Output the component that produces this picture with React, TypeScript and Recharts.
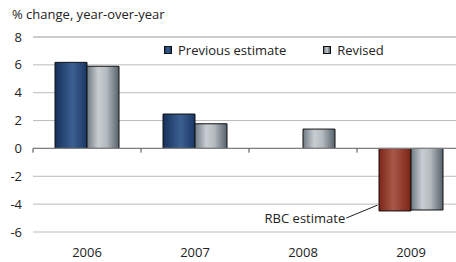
import React from 'react';
import { BarChart, Bar, XAxis, YAxis, CartesianGrid, ReferenceLine, ReferenceDot, Cell, Legend } from 'recharts';

const years = ['2006', '2007', '2008', '2009'];
const previousEstimate = [6.18, 2.47, null, -4.49];
const revised = [5.9, 1.77, 1.39, -4.42];
const yTicks = [-6, -4, -2, 0, 2, 4, 6, 8];
const boundaryTicks = [0, 1, 2, 3, 4];
const rbcYearIndex = 3;

const data = years.map((year, i) => ({
  year,
  idx: i + 0.5,
  previous: previousEstimate[i],
  revised: revised[i],
}));

const FONT = "'Open Sans', sans-serif";
const FS = 13;

const LegendContent = () => (
  <div style={{ display: 'flex', alignItems: 'center', fontFamily: FONT, fontSize: FS, color: '#222', whiteSpace: 'nowrap' }}>
    <span style={{ width: 6, height: 6, border: '1px solid #111', background: 'linear-gradient(90deg,#1a3765,#3b6092,#1a3765)', display: 'inline-block' }} />
    <span style={{ marginLeft: 6 }}>Previous estimate</span>
    <span style={{ width: 6, height: 6, border: '1px solid #111', marginLeft: 37, background: 'linear-gradient(90deg,#6f7a84,#c8cdd1,#56626c)', display: 'inline-block' }} />
    <span style={{ marginLeft: 6 }}>Revised</span>
  </div>
);

export default function App() {
  return (
    <div style={{ position: 'absolute', left: 0, top: 0, width: 456, height: 262, overflow: 'hidden', background: '#fff' }}>
      <div style={{ position: 'absolute', left: 12, top: 5, fontFamily: FONT, fontSize: FS, color: '#222', whiteSpace: 'nowrap' }}>
        % change, year-over-year
      </div>
      <BarChart
        width={480}
        height={262}
        data={data}
        margin={{ top: 37, right: 15, bottom: 0, left: 0 }}
        barSize={32}
        barGap={0}
      >
        <defs>
          <linearGradient id="gNavy" x1="0" y1="0" x2="1" y2="0">
            <stop offset="0%" stopColor="#16305a" />
            <stop offset="55%" stopColor="#3b6092" />
            <stop offset="100%" stopColor="#1a3765" />
          </linearGradient>
          <linearGradient id="gGray" x1="0" y1="0" x2="1" y2="0">
            <stop offset="0%" stopColor="#6f7a84" />
            <stop offset="35%" stopColor="#c8cdd1" />
            <stop offset="60%" stopColor="#b5bbc0" />
            <stop offset="100%" stopColor="#56626c" />
          </linearGradient>
          <linearGradient id="gRed" x1="0" y1="0" x2="1" y2="0">
            <stop offset="0%" stopColor="#7d2618" />
            <stop offset="45%" stopColor="#a85848" />
            <stop offset="100%" stopColor="#7a2315" />
          </linearGradient>
        </defs>
        <CartesianGrid horizontal vertical={false} stroke="#bbbbbb" strokeWidth={1} />
        <XAxis
          dataKey="year"
          axisLine={false}
          tickLine={false}
          tickSize={0}
          tickMargin={16}
          height={30}
          tick={{ fontFamily: FONT, fontSize: FS, fill: '#222' }}
        />
        <XAxis xAxisId="num" type="number" dataKey="idx" domain={[0, 4]} hide allowDataOverflow />
        <YAxis
          domain={[-6, 8]}
          ticks={yTicks}
          width={33}
          axisLine={false}
          tickLine={false}
          tickSize={0}
          tickMargin={11}
          tick={{ fontFamily: FONT, fontSize: FS, fill: '#222' }}
        />
        <ReferenceLine y={8} stroke="#bbbbbb" strokeWidth={1} />
        <ReferenceLine y={0} stroke="#808080" strokeWidth={1.2} />
        {boundaryTicks.map((k) => (
          <ReferenceLine
            key={k}
            xAxisId="num"
            segment={[{ x: k, y: 0 }, { x: k, y: -0.3 }]}
            stroke="#444"
            strokeWidth={1}
          />
        ))}
        <Legend
          layout="horizontal"
          verticalAlign="middle"
          content={<LegendContent />}
          wrapperStyle={{ position: 'absolute', top: 41, left: 164, width: 'auto' }}
        />
        <Bar dataKey="previous" name="Previous estimate" fill="url(#gNavy)" stroke="#111" strokeWidth={1} isAnimationActive={false}>
          {data.map((d, i) => (
            <Cell key={d.year} fill={i === rbcYearIndex ? 'url(#gRed)' : 'url(#gNavy)'} />
          ))}
        </Bar>
        <Bar dataKey="revised" name="Revised" fill="url(#gGray)" stroke="#111" strokeWidth={1} isAnimationActive={false} />
        <ReferenceLine
          xAxisId="num"
          segment={[{ x: 2.9, y: -5.0 }, { x: 3.19, y: -4.07 }]}
          stroke="#222"
          strokeWidth={1}
        />
        <ReferenceDot
          xAxisId="num"
          x={2.9}
          y={-5.0}
          r={0}
          fill="none"
          stroke="none"
          label={{ value: 'RBC estimate', position: 'left', offset: 1, fontFamily: FONT, fontSize: FS, fill: '#222' }}
        />
      </BarChart>
    </div>
  );
}
